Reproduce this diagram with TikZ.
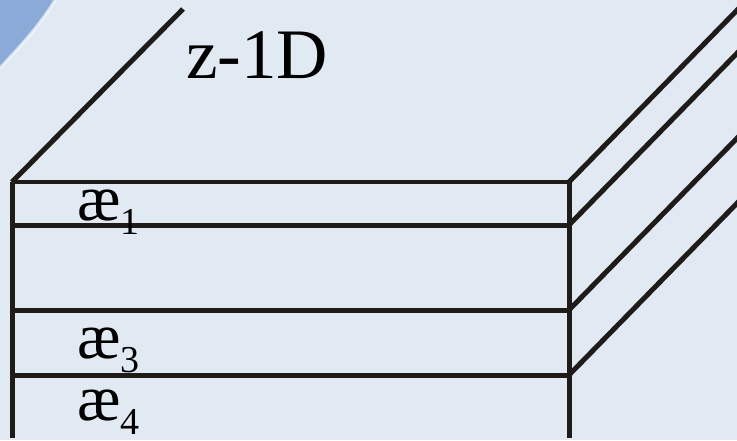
\documentclass[tikz,border=0pt]{standalone}
\usepackage{fontspec}
\setmainfont{Liberation Serif}
\usetikzlibrary{positioning}
\definecolor{bgblue}{RGB}{225,233,243}
\definecolor{swoosh}{RGB}{138,170,216}
\definecolor{ink}{RGB}{30,27,24}
\newcommand\layerlbl[1]{æ\raisebox{-14pt}{\fontsize{38}{38}\selectfont #1}}

\begin{document}
\begin{tikzpicture}[x=1pt,y=-1pt,
                    wall/.style={draw=ink,line width=5pt},
                    thin wall/.style={draw=ink,line width=3.5pt},
                    layer label/.style={anchor=base west,inner sep=0pt,font=\fontsize{65}{65}\selectfont},
                    axis label/.style={anchor=base west,inner sep=0pt,font=\fontsize{71}{71}\selectfont}]

  % background
  \fill[bgblue] (0,0) rectangle (737,440);
  \useasboundingbox (0,0) rectangle (737,440);
  \clip (0,0) rectangle (737,440);
  \fill[swoosh] (0,0) -- (55,0) .. controls (38,28) and (18,48) .. (0,68) -- cycle;
  \draw[white,line width=3pt,opacity=0.6] (55,0) .. controls (38,28) and (18,48) .. (0,68);

  % corners of the slab
  \coordinate (tl) at (12,182);
  \coordinate (tr) at (569,182);
  \coordinate (bl) at (12,438);
  \coordinate (br) at (569,438);
  \coordinate (zend) at (183,9);

  % layer boundaries
  \coordinate (l1) at (12,225);
  \coordinate (r1) at (569,225);
  \coordinate (l3) at (12,310);
  \coordinate (r3) at (569,310);
  \coordinate (l4) at (12,375);
  \coordinate (r4) at (569,375);

  \draw[wall] (tl) -- (zend);
  \draw[thin wall] (tl) -- (tr);
  \draw[wall] (l1) -- (r1);
  \draw[wall] (l3) -- (r3);
  \draw[wall] (l4) -- (r4);
  \draw[wall] (tl) -- (bl);
  \draw[wall] (tr) -- (br);

  % receding edges
  \foreach \c in {tr,r1,r3,r4}
    \draw[wall] (\c) -- ++(180,-184);

  \node[axis label] (zlabel) at (186,78) {z-1D};
  \node[layer label] (ae1) at (77,220) {\layerlbl{1}};
  \node[layer label] (ae3) at (77,358) {\layerlbl{3}};
  \node[layer label] (ae4) at (77,420) {\layerlbl{4}};
\end{tikzpicture}
\end{document}
